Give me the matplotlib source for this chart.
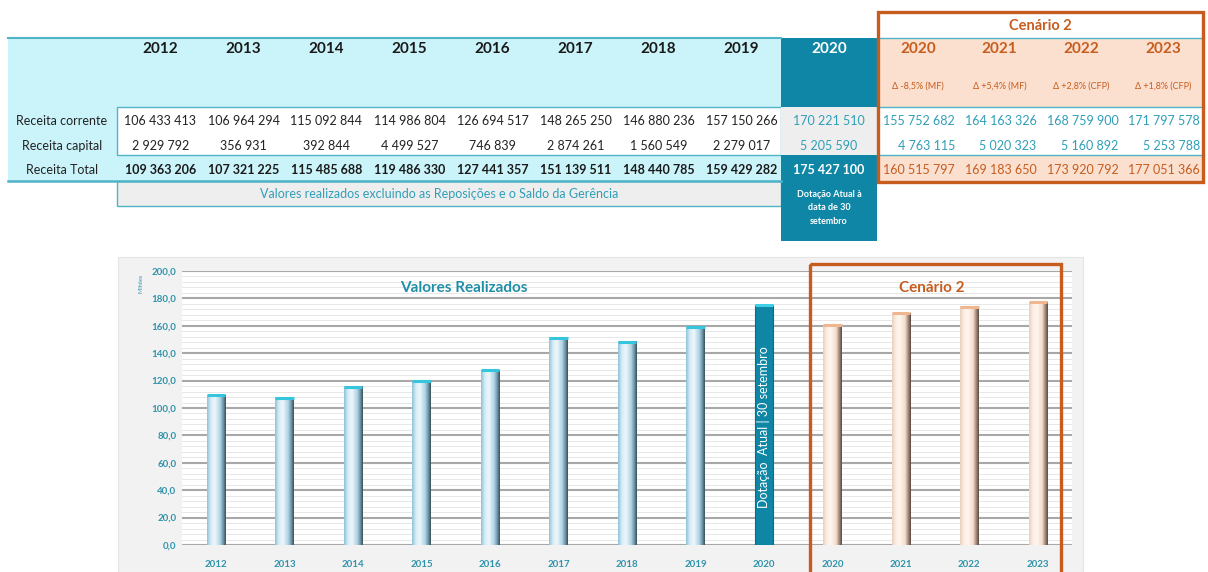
import matplotlib
matplotlib.use("Agg")
import matplotlib.pyplot as plt
import numpy as np
from matplotlib.colors import LinearSegmentedColormap
from matplotlib.patches import Rectangle

plt.rcParams['font.family'] = ['Lato', 'DejaVu Sans']

# ---------------- data ----------------
years_real = ['2012', '2013', '2014', '2015', '2016', '2017', '2018', '2019']
corrente_real = [106433413, 106964294, 115092844, 114986804, 126694517, 148265250, 146880236, 157150266]
capital_real = [2929792, 356931, 392844, 4499527, 746839, 2874261, 1560549, 2279017]
total_real = [109363206, 107321225, 115485688, 119486330, 127441357, 151139511, 148440785, 159429282]

dot_year = '2020'
dot_corrente = 170221510
dot_capital = 5205590
dot_total = 175427100

scen_years = ['2020', '2021', '2022', '2023']
scen_delta = ['Δ -8,5% (MF)', 'Δ +5,4% (MF)', 'Δ +2,8% (CFP)', 'Δ +1,8% (CFP)']
scen_corrente = [155752682, 164163326, 168759900, 171797578]
scen_capital = [4763115, 5020323, 5160892, 5253788]
scen_total = [160515797, 169183650, 173920792, 177051366]

row_labels = ['Receita corrente', 'Receita capital', 'Receita Total']
y_ticks = [0, 20, 40, 60, 80, 100, 120, 140, 160, 180, 200]

# ---------------- colours ----------------
CYAN_BG = '#cbf4fa'
CYAN_LINE = '#4fb4c8'
TEAL = '#0f86a6'
TEXT_CYAN = '#2f9fb8'
ORANGE = '#c65d1e'
PEACH = '#fbdfcf'
GREY_FILL = '#eeeeee'
TICK_COL = '#2f93ab'


def fmt(v):
    return f"{v:,}".replace(',', ' ')


W, H = 1208, 572
fig = plt.figure(figsize=(W / 100, H / 100), dpi=100)
fig.patch.set_facecolor('white')

bg = fig.add_axes([0, 0, 1, 1], zorder=0)
bg.set_xlim(0, W)
bg.set_ylim(H, 0)
bg.axis('off')

fg = fig.add_axes([0, 0, 1, 1], zorder=5)
fg.set_xlim(0, W)
fg.set_ylim(H, 0)
fg.axis('off')
fg.patch.set_alpha(0)

# ---------------- table ----------------
x_left, x_box, x_teal0, x_teal1, x_sc1 = 8, 117, 781, 877, 1204
y_top, y_hdr_bot, y_data_bot, y_tot_bot, y_note_bot = 38, 107, 155, 181, 206
y_year, y_delta, y_rc, y_rk, y_rt = 49, 86, 121, 146, 170

bg.add_patch(Rectangle((x_left, y_top), x_teal0 - x_left, y_hdr_bot - y_top, fc=CYAN_BG, ec='none'))
bg.add_patch(Rectangle((x_left, y_hdr_bot), x_box - x_left, y_data_bot - y_hdr_bot, fc=CYAN_BG, ec='none'))
bg.add_patch(Rectangle((x_left, y_data_bot), x_teal0 - x_left, y_tot_bot - y_data_bot, fc=CYAN_BG, ec='none'))
bg.add_patch(Rectangle((x_box, y_hdr_bot), x_teal0 - x_box, y_data_bot - y_hdr_bot, fc='white', ec=CYAN_LINE, lw=1.0))
bg.plot([x_left, x_teal0], [y_top, y_top], color=CYAN_LINE, lw=1.5)
bg.plot([x_left, x_teal0], [y_tot_bot, y_tot_bot], color=CYAN_LINE, lw=1.8)
bg.add_patch(Rectangle((x_box, y_tot_bot), x_teal0 - x_box, y_note_bot - y_tot_bot, fc=GREY_FILL, ec=CYAN_LINE, lw=1.0))
bg.text((x_box + x_teal0) / 2 - 10, (y_tot_bot + y_note_bot) / 2,
        'Valores realizados excluindo as Reposições e o Saldo da Gerência',
        ha='center', va='center', fontsize=9, color=TEXT_CYAN)

bg.add_patch(Rectangle((x_teal0, y_top), x_teal1 - x_teal0, y_hdr_bot - y_top, fc=TEAL, ec='none'))
bg.add_patch(Rectangle((x_teal0, y_hdr_bot), x_teal1 - x_teal0, y_data_bot - y_hdr_bot, fc=GREY_FILL, ec='none'))
bg.add_patch(Rectangle((x_teal0, y_data_bot), x_teal1 - x_teal0, 241 - y_data_bot, fc=TEAL, ec='none'))
xt = (x_teal0 + x_teal1) / 2
bg.text(xt, y_year, dot_year, ha='center', va='center', fontsize=11, fontweight='bold', color='white')
bg.text(xt, y_rc, fmt(dot_corrente), ha='center', va='center', fontsize=9, color=TEXT_CYAN)
bg.text(xt, y_rk, fmt(dot_capital), ha='center', va='center', fontsize=9, color=TEXT_CYAN)
bg.text(xt, y_rt, fmt(dot_total), ha='center', va='center', fontsize=9, fontweight='bold', color='white')
bg.text(xt, 208, 'Dotação Atual à\ndata de 30\nsetembro', ha='center', va='center', fontsize=6.5,
        fontweight='bold', color='white', linespacing=1.6)

for lab, yy in zip(row_labels, [y_rc, y_rk, y_rt]):
    bg.text(62, yy, lab, ha='center', va='center', fontsize=9, color='#222222')

col_w = (x_teal0 - x_box) / len(years_real)
for i, yr in enumerate(years_real):
    cx = x_box + col_w * (i + 0.5) + 2
    bg.text(cx, y_year, yr, ha='center', va='center', fontsize=11, fontweight='bold', color='#1a1a1a')
    bg.text(cx, y_rc, fmt(corrente_real[i]), ha='center', va='center', fontsize=9, color='#222222')
    bg.text(cx, y_rk, fmt(capital_real[i]), ha='center', va='center', fontsize=9, color='#222222')
    bg.text(cx, y_rt, fmt(total_real[i]), ha='center', va='center', fontsize=9, fontweight='bold', color='#1a1a1a')

sc_top = 12
bg.add_patch(Rectangle((x_teal1, y_top), x_sc1 - x_teal1, y_hdr_bot - y_top, fc=PEACH, ec='none'))
bg.add_patch(Rectangle((x_teal1, y_data_bot), x_sc1 - x_teal1, y_tot_bot - y_data_bot, fc=PEACH, ec='none'))
for yy in [y_top, y_hdr_bot, y_data_bot]:
    bg.plot([x_teal1, x_sc1], [yy, yy], color=CYAN_LINE, lw=1.0)
fg.add_patch(Rectangle((x_teal1 + 1, sc_top), x_sc1 - x_teal1 - 2, y_tot_bot + 1 - sc_top, fc='none', ec=ORANGE, lw=2.4))
bg.text((x_teal1 + x_sc1) / 2, 26, 'Cenário 2', ha='center', va='center', fontsize=10.5, fontweight='bold', color=ORANGE)
sc_w = (x_sc1 - x_teal1) / len(scen_years)
for i, yr in enumerate(scen_years):
    cx = x_teal1 + sc_w * (i + 0.5)
    bg.text(cx, y_year, yr, ha='center', va='center', fontsize=11, fontweight='bold', color=ORANGE)
    bg.text(cx, y_delta, scen_delta[i], ha='center', va='center', fontsize=6.5, color=ORANGE)
    rx = cx + 37
    bg.text(rx, y_rc, fmt(scen_corrente[i]), ha='right', va='center', fontsize=9, color=TEXT_CYAN)
    bg.text(rx, y_rk, fmt(scen_capital[i]), ha='right', va='center', fontsize=9, color=TEXT_CYAN)
    bg.text(rx, y_rt, fmt(scen_total[i]), ha='right', va='center', fontsize=9, color=ORANGE)

# ---------------- chart ----------------
bg.add_patch(Rectangle((118, 257), 1083 - 118, H - 257, fc='#f2f2f2', ec='#e4e4e4', lw=0.8))

px_l, px_r, px_t, px_b = 182, 1072, 271, 545
ax = fig.add_axes([px_l / W, 1 - px_b / H, (px_r - px_l) / W, (px_b - px_t) / H], zorder=2)
ax.set_facecolor('white')

labels = years_real + [dot_year] + scen_years
values = [v / 1e6 for v in total_real] + [dot_total / 1e6] + [v / 1e6 for v in scen_total]
kinds = ['real'] * len(years_real) + ['dot'] + ['scen'] * len(scen_years)
xpos = np.arange(len(labels))

for yv in np.arange(0, 200, 4):
    ax.axhline(yv, color='#e3e3e3', lw=0.6, zorder=0)
for yv in y_ticks:
    ax.axhline(yv, color='#a8a8a8', lw=1.5, zorder=1)

cm_blue = LinearSegmentedColormap.from_list('b', [(0, '#8fc2d8'), (0.2, '#d6ecf6'), (0.42, '#eef7fb'),
                                                 (0.7, '#add3e4'), (0.86, '#7199ac'), (1, '#3a4f58')])
cm_peach = LinearSegmentedColormap.from_list('p', [(0, '#ead0bf'), (0.2, '#fbeee4'), (0.42, '#fff6ef'),
                                                  (0.7, '#f3dccb'), (0.86, '#a48c7e'), (1, '#5a4a42')])
grad = np.linspace(0, 1, 64).reshape(1, -1)

bars = ax.bar(xpos, values, width=0.27, color='none', edgecolor='none', zorder=3)
for b, k in zip(bars, kinds):
    x0, w, h = b.get_x(), b.get_width(), b.get_height()
    if k == 'dot':
        ax.add_patch(Rectangle((x0, 0), w, h, fc=TEAL, ec='#0b6d88', lw=0.8, zorder=3))
        cap = '#3fd0e6'
    else:
        ax.imshow(grad, extent=[x0, x0 + w, 0, h], cmap=cm_blue if k == 'real' else cm_peach,
                  aspect='auto', zorder=3, interpolation='bilinear')
        cap = '#35c6de' if k == 'real' else '#f0b690'
    ax.plot([x0, x0 + w], [h, h], color=cap, lw=2.2, zorder=4, solid_capstyle='butt')
    if k == 'dot':
        ax.text(b.get_x() + w / 2, h * 0.49, 'Dotação  Atual | 30 setembro', rotation=90,
                ha='center', va='center', fontsize=9, color='white', zorder=5)

ax.set_xlim(-0.5, len(labels) - 0.5)
ax.set_ylim(0, 200)
ax.set_xticks(xpos)
ax.set_xticklabels(labels, fontsize=7, fontweight='bold', color=TICK_COL)
ax.set_yticks(y_ticks)
ax.set_yticklabels([f"{v:.1f}".replace('.', ',') for v in y_ticks], fontsize=7, fontweight='bold', color=TICK_COL)
ax.tick_params(length=0)
ax.tick_params(axis='x', pad=11)
ax.tick_params(axis='y', pad=4)
for s in ax.spines.values():
    s.set_visible(False)

fg.text(141, 283, 'Milhões', rotation=90, ha='center', va='center', fontsize=4, color=TICK_COL)
fg.text(464, 288, 'Valores Realizados', ha='center', va='center', fontsize=11, fontweight='bold', color='#1f8ea8')
fg.text(932, 288, 'Cenário 2', ha='center', va='center', fontsize=11, fontweight='bold', color=ORANGE)
fg.add_patch(Rectangle((810, 264), 1061 - 810, H + 10 - 264, fc='none', ec=ORANGE, lw=2.4, clip_on=False))

fig.savefig('out.png', dpi=100, facecolor='white')
